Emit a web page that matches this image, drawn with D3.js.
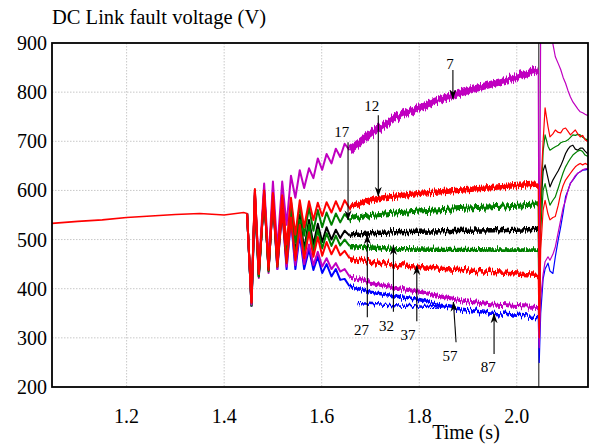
<!DOCTYPE html>
<html>
<head>
<meta charset="utf-8">
<script src="https://cdn.jsdelivr.net/npm/d3@7"></script>
<style>
  body { margin: 0; background: #fff; }
  svg { display: block; }
</style>
</head>
<body>
<svg id="chart" width="590" height="446"></svg>
<script>
// ---- values ----
const xTicks = [1.2, 1.4, 1.6, 1.8, 2.0];
const yTicks = [200, 300, 400, 500, 600, 700, 800, 900];
const gridY = [300, 400, 500, 600, 700, 800];
const faultClear = 2.045;

// before the fault every case sits on the same trace
const preTimes = [1.047, 1.1, 1.15, 1.2, 1.25, 1.3, 1.35, 1.4, 1.44, 1.447];
const preVals = [533, 537, 540, 545, 548, 551, 553, 550, 555, 553];

// swing after inception: peak / trough of each half cycle
const oscTimes = [1.456, 1.463, 1.471, 1.482, 1.491, 1.500, 1.509, 1.519, 1.528, 1.537, 1.546, 1.555,
                  1.564, 1.574, 1.583, 1.592, 1.601, 1.610, 1.620, 1.629, 1.638, 1.647, 1.657];
const osc7  = [368, 598, 440, 614, 455, 618, 480, 618, 530, 630, 585, 641, 605, 645, 625, 665, 642, 674, 655, 685, 668, 695, 682];
const osc12 = [372, 603, 430, 600, 445, 595, 465, 590, 490, 585, 510, 580, 525, 578, 540, 575, 548, 576, 555, 578, 558, 580, 564];
const osc17 = [366, 588, 425, 598, 440, 592, 458, 585, 475, 578, 495, 570, 508, 565, 518, 560, 525, 555, 530, 553, 535, 552, 540];
const osc27 = [370, 595, 428, 590, 438, 585, 450, 570, 460, 560, 470, 550, 480, 540, 490, 532, 495, 525, 500, 520, 503, 518, 508];
const osc32 = [366, 590, 425, 595, 435, 585, 445, 568, 455, 555, 465, 540, 470, 530, 477, 520, 482, 513, 487, 508, 488, 500, 487];
const osc37 = [372, 600, 430, 592, 438, 580, 445, 560, 452, 545, 458, 530, 462, 515, 465, 505, 467, 495, 470, 488, 468, 477, 462];
const osc57 = [365, 590, 422, 600, 432, 590, 440, 570, 445, 545, 448, 520, 450, 490, 448, 475, 445, 462, 440, 452, 435, 440, 425];
const osc87 = [365, 580, 425, 590, 438, 580, 440, 560, 440, 540, 440, 510, 440, 480, 438, 465, 432, 450, 425, 440, 418, 420, 405];

// slow drift until the fault is cleared
const trendTimes = [1.7, 1.75, 1.8, 1.85, 1.9, 1.95, 2.0, 2.044];
const trend7  = [715, 748, 770, 788, 803, 817, 830, 845];
const trend12 = [581, 588, 594, 598, 602, 606, 610, 613];
const trend17 = [549, 554, 558, 561, 564, 567, 570, 573];
const trend27 = [513, 515, 516, 517, 518, 519, 520, 522];
const trend32 = [484, 481, 480, 479, 479, 478, 478, 478];
const trend37 = [455, 449, 444, 440, 437, 434, 431, 428];
const trend57 = [412, 402, 394, 383, 374, 368, 365, 363];
const trend87 = [393, 385, 378, 365, 356, 350, 346, 343];

// second, rippled blue trace of case 87
const ripple87Times = [1.673, 1.72, 1.78, 1.84];
const ripple87Vals = [371, 368, 365, 362];

// recovery after clearing
const postTimes = [2.046, 2.049, 2.054, 2.058, 2.064, 2.068, 2.074, 2.079, 2.085, 2.090, 2.095,
                   2.100, 2.105, 2.110, 2.115, 2.120, 2.125, 2.130, 2.135, 2.140, 2.146];
const post7  = [300, 950, 950, 950, 950, 940, 898, 872, 858, 846, 830, 818, 803, 790, 780, 773, 766, 760, 758, 755, 752];
const post12 = [320, 600, 700, 768, 730, 709, 715, 723, 718, 717, 725, 727, 720, 713, 718, 723, 715, 709, 712, 703, 699];
const post17 = [330, 560, 680, 713, 690, 682, 686, 689, 692, 697, 699, 700, 703, 708, 713, 712, 714, 713, 708, 705, 703];
const post27 = [340, 560, 640, 652, 625, 607, 621, 630, 640, 650, 662, 675, 684, 690, 692, 684, 682, 686, 686, 680, 674];
const post32 = [330, 520, 600, 614, 585, 570, 580, 587, 605, 621, 636, 648, 657, 665, 672, 676, 680, 682, 679, 672, 669];
const post37 = [300, 480, 560, 580, 552, 540, 545, 547, 570, 594, 610, 621, 628, 635, 642, 648, 652, 655, 652, 655, 652];
const post57 = [280, 380, 430, 455, 465, 458, 470, 485, 515, 540, 565, 580, 600, 614, 622, 630, 635, 638, 642, 644, 645];
const post87 = [250, 350, 420, 440, 452, 436, 431, 465, 500, 526, 555, 587, 600, 615, 621, 628, 635, 638, 641, 642, 643];

// arrow labels
const annLabels = ['7', '12', '17', '27', '32', '37', '57', '87'];
const annText = [[1.863, 857], [1.7025, 772], [1.641, 719], [1.6815, 316], [1.7327, 324], [1.777, 306], [1.863, 263], [1.9417, 241]];
const annFrom = [[1.869, 845], [1.716, 753], [1.654, 698], [1.6935, 342], [1.747, 353], [1.795, 334], [1.8755, 291], [1.9534, 267]];
const annTo = [[1.869, 786], [1.716, 588], [1.654, 540], [1.6935, 510], [1.747, 488], [1.795, 447], [1.870, 373], [1.9534, 349]];

// ---- layout ----
const width = 590, height = 446;
const margin = { top: 43, right: 2, bottom: 59, left: 52 };
const innerW = width - margin.left - margin.right;
const innerH = height - margin.top - margin.bottom;

const x = d3.scaleLinear().domain([1.047, 2.146]).range([0, innerW]);
const y = d3.scaleLinear().domain([200, 900]).range([innerH, 0]);

const svg = d3.select('#chart')
  .attr('font-family', '"Liberation Serif", "Times New Roman", serif');
const defs = svg.append('defs');

defs.append('clipPath').attr('id', 'plot-clip')
  .append('rect').attr('width', innerW).attr('height', innerH);

// ripple texture for the noisy bands (vertical jitter only)
const rip = defs.append('filter').attr('id', 'ripple')
  .attr('x', '-2%').attr('y', '-30%').attr('width', '104%').attr('height', '160%');
rip.append('feTurbulence').attr('type', 'fractalNoise')
  .attr('baseFrequency', '0.75 0.02').attr('numOctaves', 1).attr('seed', 3).attr('result', 'noise');
rip.append('feColorMatrix').attr('in', 'noise').attr('type', 'matrix')
  .attr('values', '0 0 0 0 0.5  0 1 0 0 0  0 0 1 0 0  0 0 0 0 1').attr('result', 'dmap');
rip.append('feDisplacementMap').attr('in', 'SourceGraphic').attr('in2', 'dmap')
  .attr('scale', 11).attr('xChannelSelector', 'R').attr('yChannelSelector', 'G');

defs.append('marker').attr('id', 'arrow')
  .attr('viewBox', '0 -4 10 8').attr('refX', 9.5).attr('refY', 0)
  .attr('markerWidth', 10).attr('markerHeight', 8).attr('markerUnits', 'userSpaceOnUse')
  .attr('orient', 'auto')
  .append('path').attr('d', 'M0,-3.5L10,0L0,3.5L3,0Z').attr('fill', '#000');

const g = svg.append('g').attr('transform', `translate(${margin.left},${margin.top})`);

// grid
g.append('g').selectAll('line').data(xTicks).join('line')
  .attr('x1', d => x(d)).attr('x2', d => x(d)).attr('y1', 0).attr('y2', innerH)
  .attr('stroke', '#c8c8c8').attr('stroke-width', 1).attr('stroke-dasharray', '1.5,1.5');
g.append('g').selectAll('line').data(gridY).join('line')
  .attr('x1', 0).attr('x2', innerW).attr('y1', d => y(d)).attr('y2', d => y(d))
  .attr('stroke', '#c8c8c8').attr('stroke-width', 1).attr('stroke-dasharray', '1.5,1.5');

const line = d3.line().x(d => x(d[0])).y(d => y(d[1]));
const zip = (ts, vs) => ts.map((t, i) => [t, vs[i]]);

const plot = g.append('g').attr('clip-path', 'url(#plot-clip)');

// drawing order (bottom first)
const cases = [
  { osc: osc87, trend: trend87, post: post87, color: '#0000ff', band: 3.5 },
  { osc: osc57, trend: trend57, post: post57, color: '#c000c0', band: 4 },
  { osc: osc27, trend: trend27, post: post27, color: '#000000', band: 4.5 },
  { osc: osc32, trend: trend32, post: post32, color: '#008000', band: 4.5 },
  { osc: osc17, trend: trend17, post: post17, color: '#008000', band: 5 },
  { osc: osc7,  trend: trend7,  post: post7,  color: '#c000c0', band: 7 },
  { osc: osc37, trend: trend37, post: post37, color: '#ff0000', band: 4.5 },
  { osc: osc12, trend: trend12, post: post12, color: '#ff0000', band: 5.5 }
];

// prefault trace
plot.append('path')
  .attr('d', line(zip(preTimes, preVals).concat([[oscTimes[0], osc37[0]]])))
  .attr('fill', 'none').attr('stroke', '#ff0000').attr('stroke-width', 1.6);

cases.forEach(c => {
  const oscPts = zip(oscTimes, c.osc);
  const trendPts = [oscPts[oscPts.length - 1]].concat(zip(trendTimes, c.trend));
  plot.append('path')
    .attr('d', line([[preTimes[preTimes.length - 1], preVals[preVals.length - 1]]].concat(oscPts)))
    .attr('fill', 'none').attr('stroke', c.color).attr('stroke-width', 2)
    .attr('stroke-linejoin', 'round');
  plot.append('path')
    .attr('d', line(trendPts))
    .attr('fill', 'none').attr('stroke', c.color).attr('stroke-width', c.band)
    .attr('filter', 'url(#ripple)');
});

// rippled blue trace
plot.append('path')
  .attr('d', line(zip(ripple87Times, ripple87Vals).concat([[trendTimes[3], trend87[3]]])))
  .attr('fill', 'none').attr('stroke', '#0000ff').attr('stroke-width', 2.5)
  .attr('filter', 'url(#ripple)');

// clearing instant
plot.append('line')
  .attr('x1', x(faultClear)).attr('x2', x(faultClear)).attr('y1', 0).attr('y2', innerH)
  .attr('stroke', '#555').attr('stroke-width', 1.4);

cases.forEach(c => {
  const pts = [[trendTimes[trendTimes.length - 1], c.trend[c.trend.length - 1]]].concat(zip(postTimes, c.post));
  plot.append('path')
    .attr('d', line(pts))
    .attr('fill', 'none').attr('stroke', c.color).attr('stroke-width', 1.2)
    .attr('stroke-linejoin', 'round');
});

// frame
g.append('rect').attr('width', innerW).attr('height', innerH)
  .attr('fill', 'none').attr('stroke', '#000').attr('stroke-width', 1.8);

// tick labels
g.append('g').selectAll('text').data(yTicks).join('text')
  .attr('x', -5).attr('y', d => y(d)).attr('dy', '0.35em')
  .attr('text-anchor', 'end').attr('font-size', 20).text(d => d);
g.append('g').selectAll('text').data(xTicks).join('text')
  .attr('x', d => x(d)).attr('y', innerH + 36)
  .attr('text-anchor', 'middle').attr('font-size', 20).text(d => d.toFixed(1));

svg.append('text').attr('x', 466).attr('y', 439).attr('text-anchor', 'middle')
  .attr('font-size', 20).text('Time (s)');
svg.append('text').attr('x', 52).attr('y', 24)
  .attr('font-size', 20.5).text('DC Link fault voltage (V)');

// annotations
const ann = g.append('g');
annLabels.forEach((lab, i) => {
  ann.append('line')
    .attr('x1', x(annFrom[i][0])).attr('y1', y(annFrom[i][1]))
    .attr('x2', x(annTo[i][0])).attr('y2', y(annTo[i][1]))
    .attr('stroke', '#000').attr('stroke-width', 1.1)
    .attr('marker-end', 'url(#arrow)');
  ann.append('text')
    .attr('x', x(annText[i][0])).attr('y', y(annText[i][1])).attr('dy', '0.35em')
    .attr('text-anchor', 'middle').attr('font-size', 15).text(lab);
});
</script>
</body>
</html>
